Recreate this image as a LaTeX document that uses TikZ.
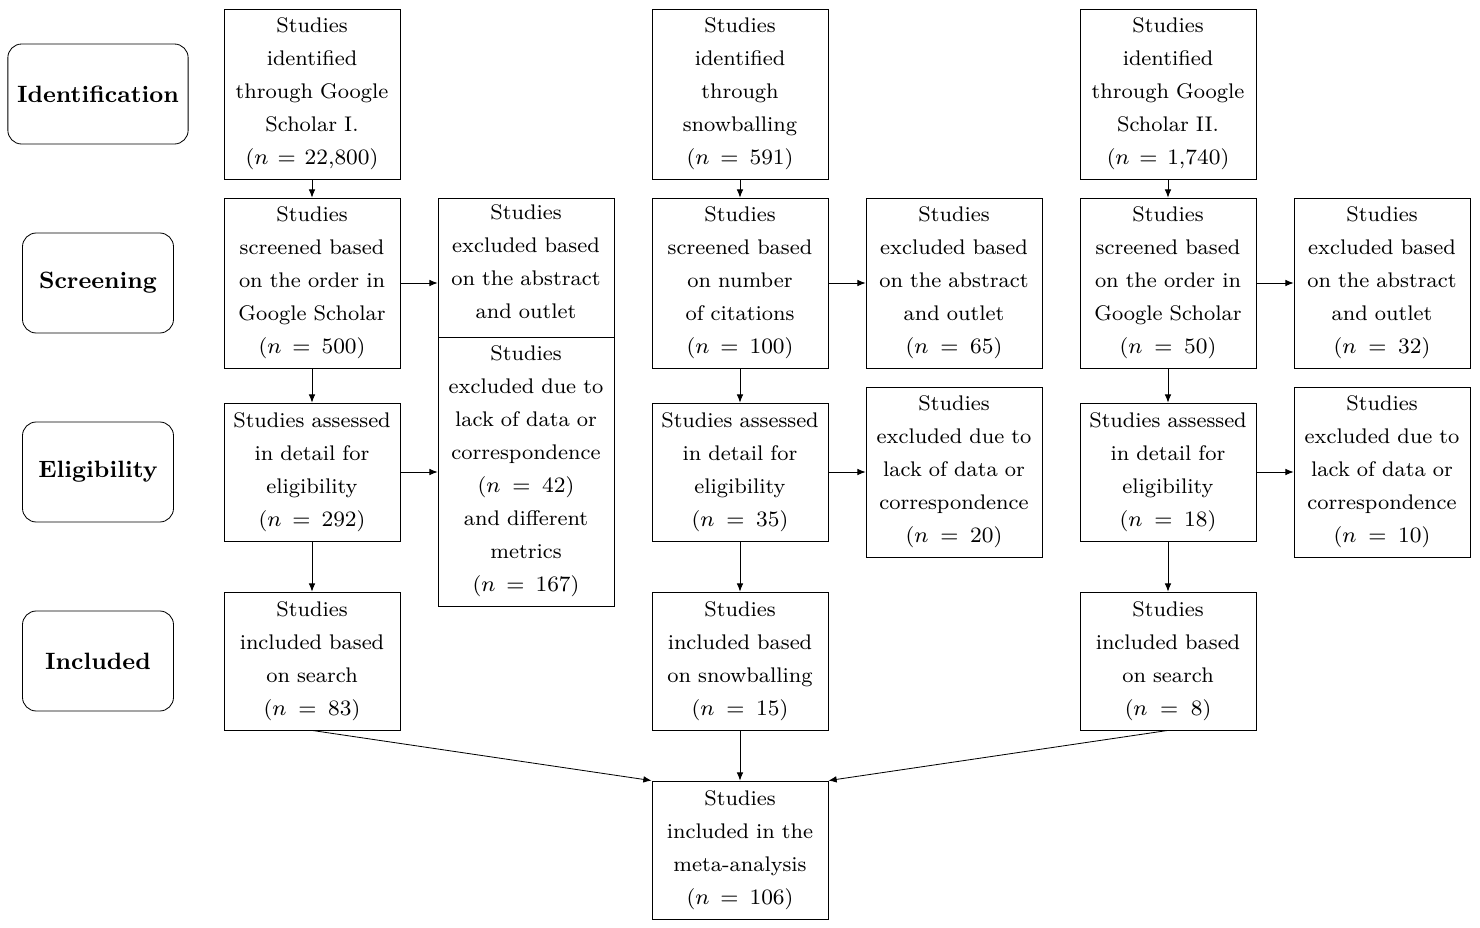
\documentclass[tikz,border=0pt]{standalone}
\usetikzlibrary{arrows.meta}
\tikzset{
  box/.style={draw, align=center, text width=176*0.364pt-4pt, inner sep=2pt, font=\fontsize{7.7}{12}\selectfont},
  tall/.style={box, minimum height=170*0.364pt},
  short/.style={box, minimum height=138*0.364pt},
  stage/.style={draw, rounded corners=5pt, minimum width=151*0.364pt, minimum height=100*0.364pt, font=\fontsize{8.6}{11}\selectfont\bfseries},
  arr/.style={-{Latex[length=3pt,width=2.4pt]}}
}
\begin{document}
\begin{tikzpicture}[x=0.364pt, y=-0.364pt, line width=0.3pt]
    \useasboundingbox (0,0) rectangle (1480,928);
    % stages
    \node[stage, minimum width=179*0.364pt] (id) at (98,94) {Identification};
    \node[stage] (sc) at (98,283) {Screening};
    \node[stage] (el) at (98,472) {Eligibility};
    \node[stage] (in) at (98,661) {Included};

    % first column
    \node[tall] (a1) at (312,94) {Studies\\identified\\through Google\\Scholar I.\\($n = 22{,}800$)};
    \node[tall] (a2) at (312,283) {Studies\\screened based\\on the order in\\Google Scholar\\($n = 500$)};
    \node[short] (a3) at (312,472) {Studies assessed\\in detail for\\eligibility\\($n = 292$)};
    \node[short] (a4) at (312,661) {Studies\\included based\\on search\\($n = 83$)};
    \node[tall] (ax1) at (526,283) {Studies\\excluded based\\on the abstract\\and outlet\\\strut};
    \node[box, fill=white, minimum height=269*0.364pt] (ax2) at (526,471.5) {Studies\\excluded due to\\lack of data or\\correspondence\\($n = 42$)\\and different\\metrics\\($n = 167$)};

    % second column
    \node[tall] (b1) at (740,94) {Studies\\identified\\through\\snowballing\\($n = 591$)};
    \node[tall] (b2) at (740,283) {Studies\\screened based\\on number\\of citations\\($n = 100$)};
    \node[short] (b3) at (740,472) {Studies assessed\\in detail for\\eligibility\\($n = 35$)};
    \node[short] (b4) at (740,661) {Studies\\included based\\on snowballing\\($n = 15$)};
    \node[tall] (bx1) at (954,283) {Studies\\excluded based\\on the abstract\\and outlet\\($n = 65$)};
    \node[tall] (bx2) at (954,472) {Studies\\excluded due to\\lack of data or\\correspondence\\($n = 20$)};

    % third column
    \node[tall] (c1) at (1168,94) {Studies\\identified\\through Google\\Scholar II.\\($n = 1{,}740$)};
    \node[tall] (c2) at (1168,283) {Studies\\screened based\\on the order in\\Google Scholar\\($n = 50$)};
    \node[short] (c3) at (1168,472) {Studies assessed\\in detail for\\eligibility\\($n = 18$)};
    \node[short] (c4) at (1168,661) {Studies\\included based\\on search\\($n = 8$)};
    \node[tall] (cx1) at (1382,283) {Studies\\excluded based\\on the abstract\\and outlet\\($n = 32$)};
    \node[tall] (cx2) at (1382,472) {Studies\\excluded due to\\lack of data or\\correspondence\\($n = 10$)};

    \node[short] (f) at (740,850) {Studies\\included in the\\meta-analysis\\($n = 106$)};

    \draw[arr] (a1) -- (a2);
    \draw[arr] (a2) -- (a3);
    \draw[arr] (a3) -- (a4);
    \draw[arr] (a2.east) -- (a2.east -| ax1.west);
    \draw[arr] (a3.east) -- (a3.east -| ax2.west);
    \draw[arr] (b1) -- (b2);
    \draw[arr] (b2) -- (b3);
    \draw[arr] (b3) -- (b4);
    \draw[arr] (b2) -- (bx1);
    \draw[arr] (b3) -- (bx2);
    \draw[arr] (c1) -- (c2);
    \draw[arr] (c2) -- (c3);
    \draw[arr] (c3) -- (c4);
    \draw[arr] (c2) -- (cx1);
    \draw[arr] (c3) -- (cx2);
    \draw[arr] (a4.south) -- (f.north west);
    \draw[arr] (b4) -- (f);
    \draw[arr] (c4.south) -- (f.north east);
\end{tikzpicture}
\end{document}
